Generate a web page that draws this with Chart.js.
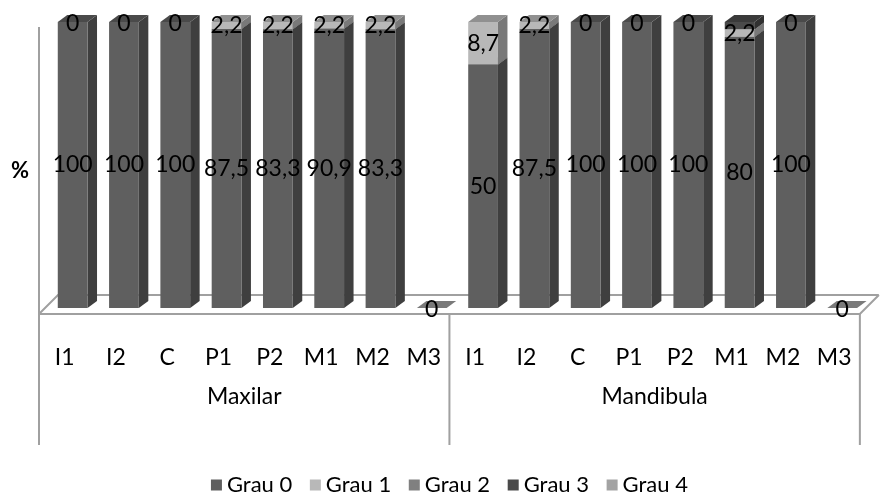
<!DOCTYPE html>
<html>
<head>
<meta charset="utf-8">
<script src="https://cdn.jsdelivr.net/npm/chart.js@4.4.1/dist/chart.umd.min.js"></script>
<style>
  html, body { margin: 0; padding: 0; background: #fff; }
  canvas { display: block; }
</style>
</head>
<body>
<canvas id="chart" width="882" height="495"></canvas>
<script>
const teeth = ['I1', 'I2', 'C', 'P1', 'P2', 'M1', 'M2', 'M3'];
const groups = ['Maxilar', 'Mandibula'];
const categories = [...teeth, ...teeth];

// Maxilar (8) then Mandibula (8)
const grau0 = [100, 100, 100, 87.5, 83.3, 90.9, 83.3, 0, 50, 87.5, 100, 100, 100, 80, 100, 0];
const grau1 = [0, 0, 0, 2.2, 2.2, 2.2, 2.2, 0, 8.7, 2.2, 0, 0, 0, 2.2, 0, 0];
const grau2 = [0, 0, 0, 0, 0, 0, 0, 0, 0, 0, 0, 0, 0, 0, 0, 0];
const grau3 = [0, 0, 0, 0, 0, 0, 0, 0, 0, 0, 0, 0, 0, 2.2, 0, 0];
const grau4 = [0, 0, 0, 0, 0, 0, 0, 0, 0, 0, 0, 0, 0, 0, 0, 0];

const seriesNames = ['Grau 0', 'Grau 1', 'Grau 2', 'Grau 3', 'Grau 4'];
const seriesValues = [grau0, grau1, grau2, grau3, grau4];
const seriesColors = ['#5f5f5f', '#b8b8b8', '#808080', '#4a4a4a', '#a3a3a3'];
const labelled = [true, true, false, false, false];

const FONT = "Lato, 'Liberation Sans', sans-serif";
const DX = 8, DY = -6;       // bars sit a bit back on the floor
const SX = 9.5, SY = -7;     // depth of each column
const FLOOR = 19;            // depth of the floor

// 100% stacked: each column is scaled to its own total
const totals = categories.map((_, i) => seriesValues.reduce((s, v) => s + v[i], 0));

function shade(hex, f) {
    const n = parseInt(hex.slice(1), 16);
    const r = Math.round(((n >> 16) & 255) * f);
    const g = Math.round(((n >> 8) & 255) * f);
    const b = Math.round((n & 255) * f);
    return `rgb(${r},${g},${b})`;
}

function poly(ctx, pts, color) {
    ctx.beginPath();
    ctx.moveTo(pts[0][0], pts[0][1]);
    pts.slice(1).forEach(p => ctx.lineTo(p[0], p[1]));
    ctx.closePath();
    ctx.fillStyle = color;
    ctx.fill();
}

const threeD = {
    id: 'threeD',
    beforeDatasetsDraw(chart) {
        const {ctx, chartArea: a} = chart;
        const L = a.left, R = a.right, B = a.bottom;
        ctx.save();
        ctx.strokeStyle = '#a0a0a0';
        ctx.lineWidth = 2;
        ctx.beginPath();
        ctx.moveTo(L, a.top - 1); ctx.lineTo(L, B);
        ctx.lineTo(R, B); ctx.lineTo(R + FLOOR, B - FLOOR);
        ctx.moveTo(L, B); ctx.lineTo(L + FLOOR, B - FLOOR); ctx.lineTo(R + FLOOR, B - FLOOR);
        ctx.stroke();
        ctx.restore();

        ctx.save();
        ctx.translate(DX, DY);
        categories.forEach((_, i) => {
            if (totals[i] === 0) {
                const el = chart.getDatasetMeta(0).data[i];
                const p = el.getProps(['x', 'base', 'width'], true);
                const l = p.x - p.width / 2, r = p.x + p.width / 2;
                poly(ctx, [[l, p.base], [r, p.base], [r + SX, p.base + SY], [l + SX, p.base + SY]], shade(seriesColors[4], 0.75));
                return;
            }
            seriesValues.forEach((vals, d) => {
                if (!vals[i]) return;
                const el = chart.getDatasetMeta(d).data[i];
                const p = el.getProps(['x', 'y', 'base', 'width'], true);
                const l = p.x - p.width / 2, r = p.x + p.width / 2;
                const top = Math.min(p.y, p.base), bot = Math.max(p.y, p.base);
                poly(ctx, [[r, top], [r + SX, top + SY], [r + SX, bot + SY], [r, bot]], shade(seriesColors[d], 0.66));
                poly(ctx, [[l, top], [r, top], [r + SX, top + SY], [l + SX, top + SY]], shade(seriesColors[d], 0.78));
            });
        });
    },
    afterDatasetsDraw(chart) {
        const {ctx} = chart;
        ctx.fillStyle = '#000';
        ctx.font = `23px ${FONT}`;
        ctx.textAlign = 'center';
        ctx.textBaseline = 'middle';
        categories.forEach((_, i) => {
            seriesValues.forEach((vals, d) => {
                if (!labelled[d]) return;
                if (totals[i] === 0 && d > 0) return;
                const el = chart.getDatasetMeta(d).data[i];
                const p = el.getProps(['x', 'y', 'base'], true);
                const y = vals[i] ? (p.y + p.base) / 2 : p.y + 2;
                ctx.fillText(String(vals[i]).replace('.', ','), p.x, y);
            });
        });
        ctx.restore();
    },
    afterDraw(chart) {
        const {ctx, chartArea: a} = chart;
        const L = a.left, R = a.right, B = a.bottom;
        ctx.save();
        ctx.strokeStyle = '#a0a0a0';
        ctx.lineWidth = 2;
        ctx.beginPath();
        [L, (L + R) / 2, R].forEach(x => { ctx.moveTo(x, B); ctx.lineTo(x, 445); });
        ctx.stroke();

        ctx.fillStyle = '#000';
        ctx.font = `bold 22px ${FONT}`;
        ctx.textAlign = 'center';
        ctx.textBaseline = 'middle';
        ctx.fillText('%', 20, (a.top + a.bottom) / 2);

        // legend
        ctx.font = `22px ${FONT}`;
        ctx.textAlign = 'left';
        const box = 11, gap = 5, span = 477;
        const widths = seriesNames.map(n => box + gap + ctx.measureText(n).width);
        const space = (span - widths.reduce((s, w) => s + w, 0)) / (widths.length - 1);
        let x = (L + R) / 2 - span / 2;
        const ly = 485;
        seriesNames.forEach((n, d) => {
            ctx.fillStyle = seriesColors[d];
            ctx.fillRect(x, ly - box / 2, box, box);
            ctx.fillStyle = '#000';
            ctx.fillText(n, x + box + gap, ly);
            x += widths[d] + space;
        });
        ctx.restore();
    }
};

new Chart(document.getElementById('chart'), {
    type: 'bar',
    data: {
        labels: categories,
        datasets: seriesNames.map((name, d) => ({
            label: name,
            data: seriesValues[d].map((v, i) => totals[i] ? v / totals[i] * 100 : 0),
            backgroundColor: seriesColors[d],
            borderWidth: 0,
            categoryPercentage: 1,
            barPercentage: 0.58,
            clip: false
        }))
    },
    options: {
        responsive: false,
        animation: false,
        layout: {padding: {left: 39, right: 14, top: 28, bottom: 0}},
        plugins: {legend: {display: false}, tooltip: {enabled: false}},
        scales: {
            x: {
                stacked: true,
                grid: {display: false, drawTicks: false},
                border: {display: false},
                ticks: {color: '#000', font: {family: FONT, size: 23}, padding: 30, autoSkip: false, maxRotation: 0},
                afterFit: s => { s.height = 60; }
            },
            x2: {
                type: 'category',
                labels: groups,
                offset: true,
                position: 'bottom',
                grid: {display: false, drawTicks: false},
                border: {display: false},
                ticks: {color: '#000', font: {family: FONT, size: 23}, padding: 9, maxRotation: 0},
                afterFit: s => { s.height = 121; }
            },
            y: {
                stacked: true,
                min: 0,
                max: 100,
                display: false
            }
        }
    },
    plugins: [threeD]
});
</script>
</body>
</html>
